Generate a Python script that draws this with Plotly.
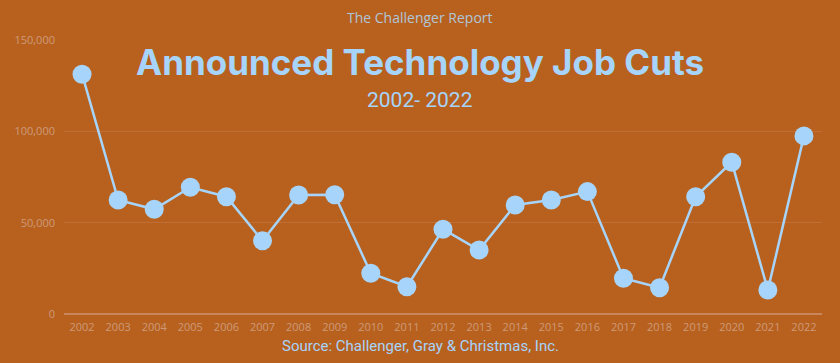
import plotly.graph_objects as go

years = [str(y) for y in range(2002, 2023)]
job_cuts = [131300, 62400, 57300, 69400, 64200, 40100, 65100, 65300, 22300, 14900,
            46400, 35000, 59700, 62400, 67000, 19600, 14400, 64200, 83100, 13100, 97500]
y_ticks = [0, 50000, 100000, 150000]
y_tick_labels = ["0", "50,000", "100,000", "150,000"]

BG = "#B8611E"
BLUE = "#A6D4FA"
TICK = "#CC9A7A"
GRID = "#BE6E36"

fig = go.Figure()
fig.add_trace(go.Scatter(
    x=years, y=job_cuts, mode="lines+markers",
    line=dict(color=BLUE, width=2.5),
    marker=dict(color=BLUE, size=19),
    hoverinfo="x+y",
))

fig.update_layout(
    width=840, height=363,
    paper_bgcolor=BG, plot_bgcolor=BG,
    margin=dict(l=64, r=18, t=40, b=49),
    showlegend=False,
    font=dict(family="Open Sans", color=TICK),
    xaxis=dict(type="category", range=[-0.5, len(years) - 0.5], autorange=False,
               showgrid=False, showline=False, zeroline=False, ticklabelstandoff=5,
               tickfont=dict(size=11, color=TICK, family="Open Sans"), ticks=""),
    yaxis=dict(range=[0, 150000], tickvals=y_ticks, ticktext=y_tick_labels,
               showgrid=True, gridcolor=GRID, gridwidth=1, zeroline=True,
               zerolinecolor="#C8875A", zerolinewidth=2, ticklabelstandoff=8,
               tickfont=dict(size=11, color=TICK, family="Open Sans"), ticks="", showline=False),
)

ph = 363 - 40 - 49
pw = 840 - 64 - 18
def py(pixel_y):
    return (363 - 49 - pixel_y) / ph
cx = (420 - 64) / pw

fig.add_annotation(text="The Challenger Report", x=cx, y=py(18), xref="paper", yref="paper",
                   showarrow=False, xanchor="center", yanchor="middle",
                   font=dict(size=14, color="#AFC6DA", family="Open Sans"))
fig.add_annotation(text="<b>Announced Technology Job Cuts</b>", x=cx, y=py(62), xref="paper", yref="paper",
                   showarrow=False, xanchor="center", yanchor="middle",
                   font=dict(size=35, color=BLUE, family="Inter"))
fig.add_annotation(text="2002- 2022", x=cx, y=py(100), xref="paper", yref="paper",
                   showarrow=False, xanchor="center", yanchor="middle",
                   font=dict(size=21, color=BLUE, family="Roboto"))
fig.add_annotation(text="Source: Challenger, Gray &amp; Christmas, Inc.", x=cx, y=py(346), xref="paper", yref="paper",
                   showarrow=False, xanchor="center", yanchor="middle",
                   font=dict(size=15, color=BLUE, family="Roboto"))

fig.write_html("out.html")
